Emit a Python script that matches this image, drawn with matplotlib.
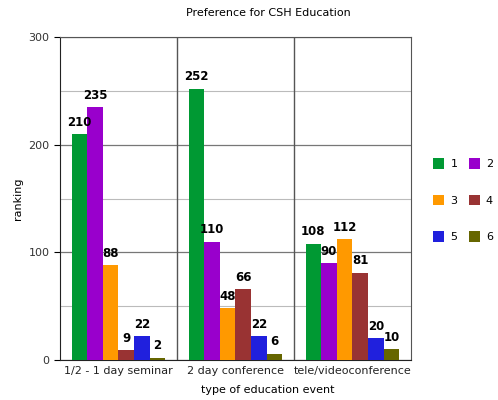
import numpy as np
import matplotlib.pyplot as plt
from matplotlib.ticker import MultipleLocator

categories = ['1/2 - 1 day seminar', '2 day conference', 'tele/videoconference']
series_names = ['1', '2', '3', '4', '5', '6']
values = [
    [210, 252, 108],
    [235, 110, 90],
    [88, 48, 112],
    [9, 66, 81],
    [22, 22, 20],
    [2, 6, 10],
]
colors = ['#009933', '#9900cc', '#ff9900', '#993333', '#2020dd', '#666600']

fig = plt.figure(figsize=(4.98, 4.0), dpi=100)
ax = fig.add_axes([0.1205, 0.1, 0.7045, 0.8075])

x = np.arange(len(categories))
w = 0.8 / len(series_names)
bars = []
for i, (name, vals) in enumerate(zip(series_names, values)):
    pos = x - 0.4 + w * (i + 0.5)
    b = ax.bar(pos, vals, w, color=colors[i], label=name, zorder=3)
    bars.append(b)
    for p, v in zip(pos, vals):
        ax.text(p, v + 5, str(v), ha='center', va='bottom', fontsize=8.5,
                fontweight='bold', zorder=4)

ax.set_xlim(-0.5, 2.5)
ax.set_ylim(0, 300)
ax.yaxis.set_major_locator(MultipleLocator(100))
ax.yaxis.set_minor_locator(MultipleLocator(50))
ax.grid(which='major', axis='y', color='#777777', lw=0.9, zorder=1)
ax.grid(which='minor', axis='y', color='#bbbbbb', lw=0.8, zorder=1)
for xv in [0.5, 1.5]:
    ax.axvline(xv, color='#555555', lw=1, zorder=2)
for s in ax.spines.values():
    s.set_color('#555555')
ax.spines['left'].set_color('#222222')
ax.spines['bottom'].set_color('#222222')

ax.set_xticks(x)
ax.set_xticklabels(categories, fontsize=8, color='#222222')
ax.tick_params(axis='x', length=0, pad=4)
ax.tick_params(axis='y', which='major', labelsize=8, labelcolor='#333333', length=4)
ax.tick_params(axis='y', which='minor', length=0)
ax.set_ylabel('ranking', fontsize=8)

# title and x label are centred on the whole chart, not the plot area
fig.text(0.538, 0.967, 'Preference for CSH Education', ha='center', va='center', fontsize=8)
fig.text(0.538, 0.025, 'type of education event', ha='center', va='center', fontsize=8)

order = [0, 2, 4, 1, 3, 5]
fig.legend([bars[i] for i in order], [series_names[i] for i in order],
           ncol=2, loc='upper left', bbox_to_anchor=(0.85, 0.63),
           frameon=False, fontsize=8, handlelength=1.0, handleheight=1.1,
           labelspacing=2.3, columnspacing=1.0, handletextpad=0.55)

fig.savefig('out.png', dpi=100)
